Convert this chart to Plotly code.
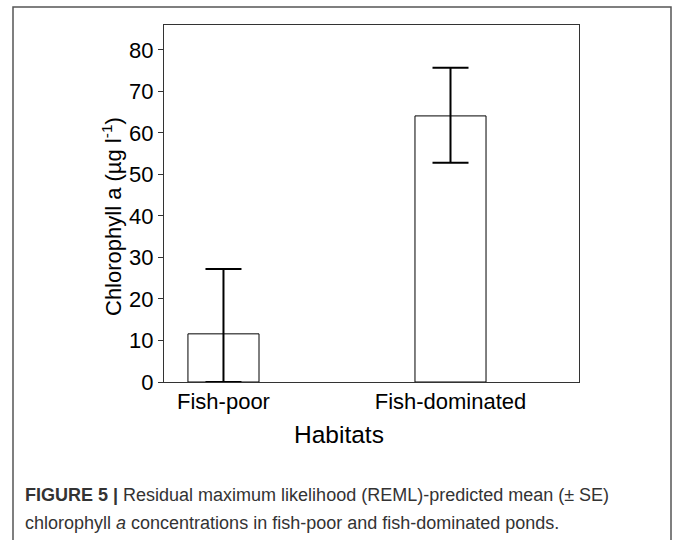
import plotly.graph_objects as go

# Data
habitats = ["Fish-poor", "Fish-dominated"]
chl_mean = [11.6, 64.1]
se_plus = [15.6, 11.6]
se_minus = [11.6, 11.3]
y_ticks = [0, 10, 20, 30, 40, 50, 60, 70, 80]

W, H = 673, 540
L, R, T, B = 164, 579, 25, 382  # plot area in pixels

def px_x(px):
    return (px - L) / (R - L)

def px_y(py):
    return (B - py) / (B - T)

fig = go.Figure()
fig.add_trace(go.Bar(
    x=[0, 1], y=chl_mean, width=0.313,
    marker=dict(color="white", line=dict(color="black", width=1)),
    error_y=dict(type="data", array=se_plus, arrayminus=se_minus,
                 color="black", thickness=2, width=18, visible=True),
    showlegend=False,
))

font = "Liberation Sans"
cap_font = dict(family="Liberation Sans", size=18, color="#333")
fig.update_layout(
    width=W, height=H,
    margin=dict(l=L, r=W - R, t=T, b=H - B),
    paper_bgcolor="white", plot_bgcolor="white",
    font=dict(family=font, color="black"),
    xaxis=dict(
        range=[-0.262, 1.566], tickvals=[0, 1], ticktext=habitats,
        showgrid=False, zeroline=False, showline=True, mirror=True,
        linecolor="#333", linewidth=1, ticks="",
        tickfont=dict(size=22, family=font),
    ),
    yaxis=dict(
        range=[0, 86], tickvals=y_ticks,
        showgrid=False, zeroline=False, showline=True, mirror=True,
        linecolor="#333", linewidth=1, ticks="outside", ticklen=5,
        tickcolor="#333", tickfont=dict(size=22, family=font),
    ),
    shapes=[
        dict(type="rect", xref="paper", yref="paper",
             x0=px_x(13), x1=px_x(671), y0=px_y(560), y1=px_y(7),
             line=dict(color="#555", width=1.5), fillcolor="rgba(0,0,0,0)",
             layer="below"),
    ],
    annotations=[
        dict(xref="paper", yref="paper", x=px_x(339), y=px_y(435),
             xanchor="center", yanchor="middle", showarrow=False,
             text="Habitats", font=dict(size=24.5, family=font, color="black")),
        dict(xref="paper", yref="paper", x=px_x(112), y=px_y(217),
             xanchor="center", yanchor="middle", showarrow=False, textangle=-90,
             text="Chlorophyll a (µg l<sup>-1</sup>)",
             font=dict(size=22, family=font, color="black")),
        dict(xref="paper", yref="paper", x=px_x(23), y=px_y(495),
             xanchor="left", yanchor="middle", showarrow=False, align="left",
             text="<b>FIGURE 5 |</b> Residual maximum likelihood (REML)-predicted mean (± SE)",
             font=cap_font),
        dict(xref="paper", yref="paper", x=px_x(23), y=px_y(523),
             xanchor="left", yanchor="middle", showarrow=False, align="left",
             text="chlorophyll <i>a</i> concentrations in fish-poor and fish-dominated ponds.",
             font=cap_font),
    ],
)

fig.write_html("out.html")
